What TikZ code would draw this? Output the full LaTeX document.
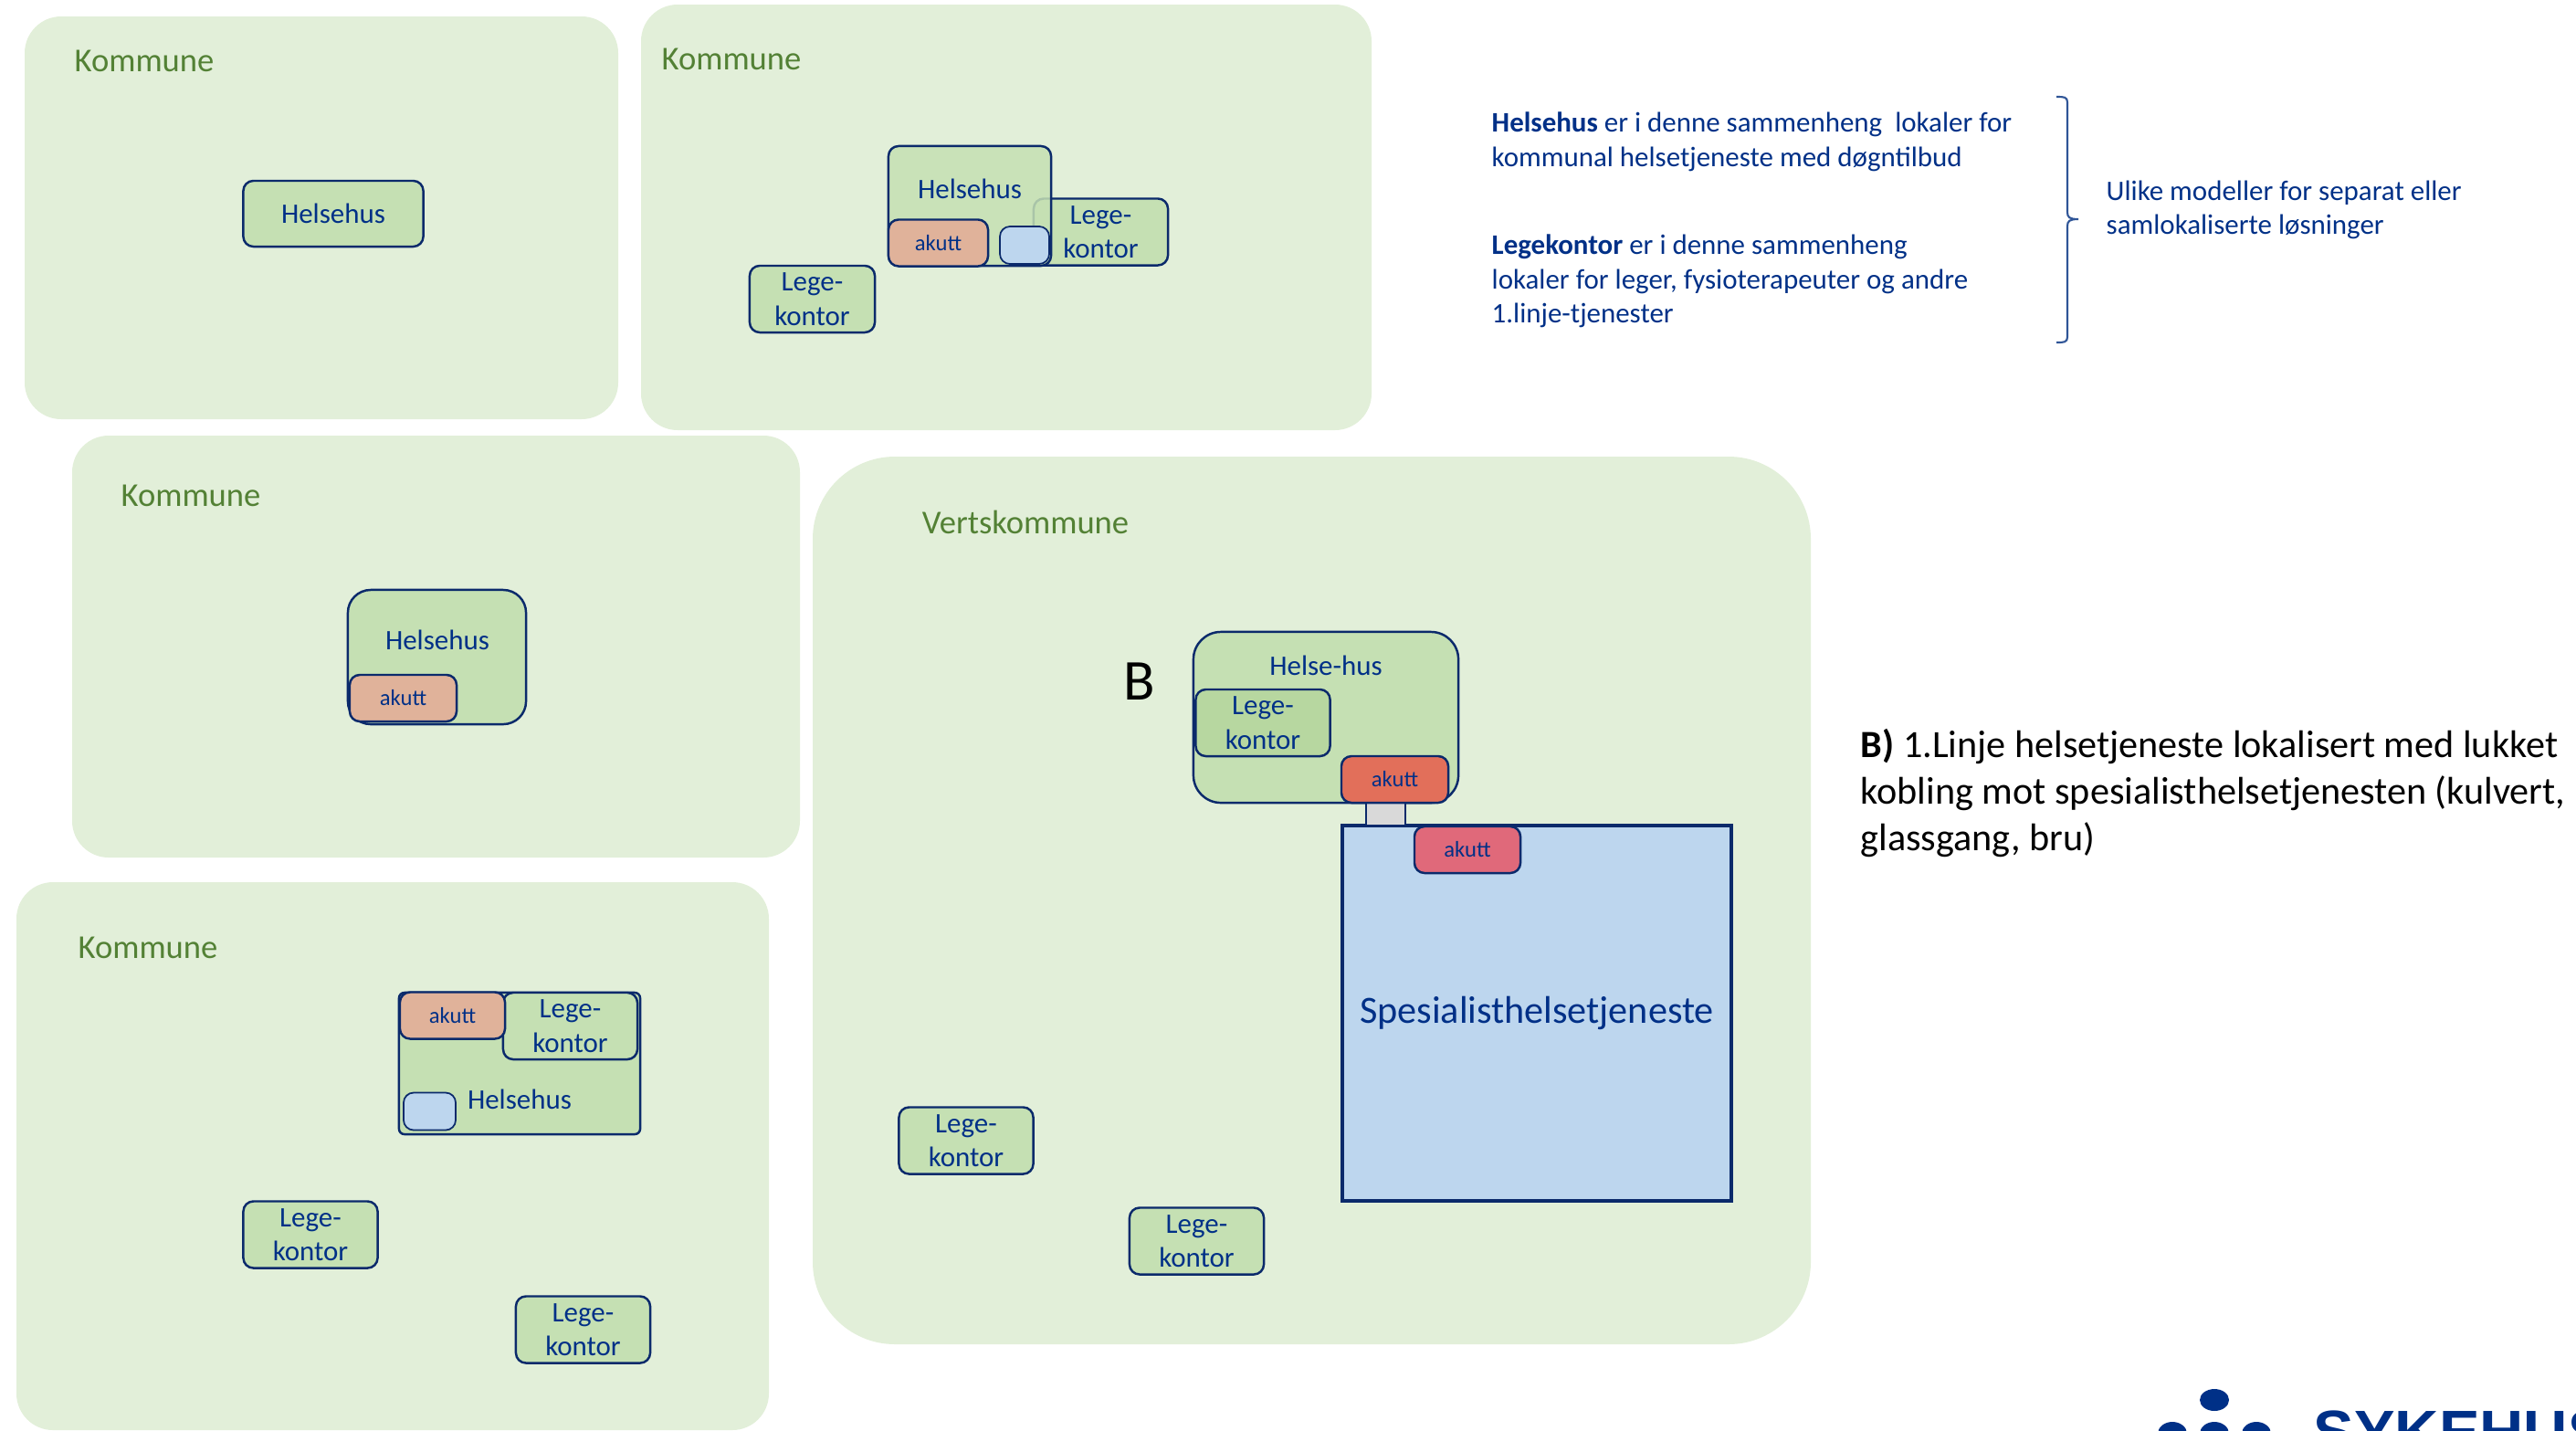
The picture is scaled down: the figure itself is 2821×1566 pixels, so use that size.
\documentclass[tikz,border=0pt]{standalone}
\usepackage{fontspec}
\setmainfont{Carlito}
\newfontfamily\logofont{Liberation Sans}
\usetikzlibrary{positioning}

\definecolor{panelgreen}{HTML}{E2EFD9}
\definecolor{housegreen}{HTML}{C5E0B3}
\definecolor{innergreen}{HTML}{B7D7A0}
\definecolor{navy}{HTML}{0B2A6B}
\definecolor{textblue}{HTML}{003087}
\definecolor{kommunegreen}{HTML}{538135}
\definecolor{akuttbeige}{HTML}{E0B29A}
\definecolor{akuttorange}{HTML}{E26F5A}
\definecolor{akuttpink}{HTML}{E0697A}
\definecolor{spesblue}{HTML}{BDD6EE}
\definecolor{bracelineblue}{HTML}{2F5597}

\begin{document}
\begin{tikzpicture}[x=0.01cm,y=-0.01cm,
  panel/.style={fill=panelgreen,rounded corners=0.4cm},
  kommune/.style={text=kommunegreen,font=\fontsize{10.4}{12}\selectfont},
  box/.style={draw=navy,line width=0.7pt,text=textblue,align=center,inner sep=0pt,
    rounded corners=0.11cm,font=\fontsize{8.8}{10.7}\selectfont},
  helsehus/.style={box,fill=housegreen,minimum width=#1},
  legekontor/.style={box,fill=housegreen,minimum width=1.47cm,minimum height=0.73cm},
  akutt/.style={box,fill=akuttbeige,minimum width=1.16cm,minimum height=0.51cm,
    font=\fontsize{7}{8}\selectfont},
  smallblue/.style={box,fill=spesblue,line width=0.5pt,minimum width=0.57cm,minimum height=0.41cm},
  label/.style={text=textblue,inner sep=0pt,font=\fontsize{8.8}{10.7}\selectfont},
  note/.style={label,anchor=north west,align=left}]

    \useasboundingbox (0,0) rectangle (2821,1566);
    \clip (0,0) rectangle (2821,1566);

    % panels
    \fill[panel] (27,18) rectangle (677,459);
    \fill[panel] (702,5) rectangle (1502,471);
    \fill[panel] (79,477) rectangle (876,939);
    \fill[panel] (18,966) rectangle (842,1566);
    \fill[panel,rounded corners=0.9cm] (890,500) rectangle (1983,1472);

    \node[kommune] (kommune1) at (158,67) {Kommune};
    \node[kommune] (kommune2) at (801,65) {Kommune};
    \node[kommune] (kommune3) at (209,543) {Kommune};
    \node[kommune] (kommune4) at (162,1038) {Kommune};
    \node[kommune] (verts) at (1123,572) {Vertskommune};

    % first
    \node[helsehus=1.97cm,minimum height=0.72cm] (hus1) at (365,234) {Helsehus};

    % second
    \node[legekontor] (lege2a) at (1205.5,254) {Lege-\\kontor};
    \node[helsehus=1.78cm,minimum height=1.31cm,fill opacity=0.85,text opacity=1] (hus2) at (1062,225.5) {};
    \node[label] (hus2text) at (1062,207) {Helsehus};
    \node[akutt,minimum width=1.09cm] (akutt2) at (1027.5,266) {akutt};
    \node[smallblue,minimum width=0.54cm] (blue2) at (1122,268.5) {};
    \node[legekontor,minimum width=1.37cm] (lege2b) at (889.5,327.5) {Lege-\\kontor};

    % third
    \node[helsehus=1.95cm,minimum height=1.47cm,rounded corners=0.25cm] (hus3) at (478.5,719.5) {};
    \node[label] (hus3text) at (479,701) {Helsehus};
    \node[akutt,minimum width=1.17cm] (akutt3) at (441.5,764.5) {akutt};

    % fourth
    \node[helsehus=2.64cm,minimum height=1.55cm,rounded corners=0.06cm] (hus4) at (569,1164.5) {};
    \node[label] (hus4text) at (569,1204) {Helsehus};
    \node[legekontor] (lege4a) at (624.5,1123.5) {Lege-\\kontor};
    \node[akutt,minimum width=1.15cm] (akutt4) at (495.5,1112) {akutt};
    \node[smallblue] (blue4) at (470.5,1217) {};
    \node[legekontor] (lege4b) at (340,1352) {Lege-\\kontor};
    \node[legekontor] (lege4c) at (638.5,1456) {Lege-\\kontor};

    % vertskommune
    \node[helsehus=2.9cm,minimum height=1.87cm,rounded corners=0.3cm] (hus5) at (1452,785.5) {};
    \node[label] (hus5text) at (1452,729) {Helse-hus};
    \node[legekontor,fill=innergreen] (lege5a) at (1383,791.5) {Lege-\\kontor};
    \node[box,fill=spesblue,rounded corners=0pt,line width=1pt,minimum width=4.26cm,minimum height=4.11cm,
      font=\fontsize{12}{14}\selectfont] (spes) at (1683,1109.5) {Spesialisthelsetjeneste};
    \node[box,fill=black!15,rounded corners=0pt,minimum width=0.43cm,minimum height=0.25cm] (kulvert) at (1517.5,891.5) {};
    \node[akutt,fill=akuttorange,minimum width=1.17cm] (akutt5a) at (1527.5,853.5) {akutt};
    \node[akutt,fill=akuttpink,minimum width=1.16cm] (akutt5b) at (1607,930.5) {akutt};
    \node[legekontor] (lege5b) at (1058,1249) {Lege-\\kontor};
    \node[legekontor] (lege5c) at (1310.5,1359) {Lege-\\kontor};
    \node[inner sep=0pt,font=\fontsize{18}{20}\selectfont] (bokstav) at (1248,746) {B};

    % notes
    \node[note] (note1) at (1633,122) {\textbf{Helsehus} er i denne sammenheng\ \ lokaler for\\kommunal helsetjeneste med døgntilbud};
    \node[note] (note2) at (1633,256) {\textbf{Legekontor} er i denne sammenheng\\lokaler for leger, fysioterapeuter og andre\\1.linje-tjenester};
    \node[note] (note3) at (2306,197) {Ulike modeller for separat eller\\samlokaliserte løsninger};
    \node[anchor=north west,inner sep=0pt,align=left,font=\fontsize{12}{14.5}\selectfont] (note4) at (2037,797)
      {\textbf{B)} 1.Linje helsetjeneste lokalisert med lukket\\kobling mot spesialisthelsetjenesten (kulvert,\\glassgang, bru)};

    \coordinate (bracetop) at (2252,106);
    \coordinate (bracetip) at (2276,240);
    \coordinate (bracebot) at (2252,375);
    \draw[bracelineblue,line width=0.6pt] (bracetop) .. controls (2260,106) and (2264,106) .. (2264,112)
      -- (2264,232) .. controls (2264,238) and (2266,240) .. (bracetip)
      .. controls (2266,240) and (2264,242) .. (2264,248) -- (2264,369)
      .. controls (2264,375) and (2260,375) .. (bracebot);

    % logo
    \fill[textblue] (2425,1533) ellipse (16 and 12);
    \foreach \dotx in {2379,2425,2471}
        \fill[textblue] (\dotx,1570) ellipse (16 and 13);
    \node[anchor=base west,inner sep=0pt,text=textblue,font=\logofont\bfseries\fontsize{19}{20}\selectfont] (logo) at (2533,1591) {SYKEHUSET};
\end{tikzpicture}
\end{document}
